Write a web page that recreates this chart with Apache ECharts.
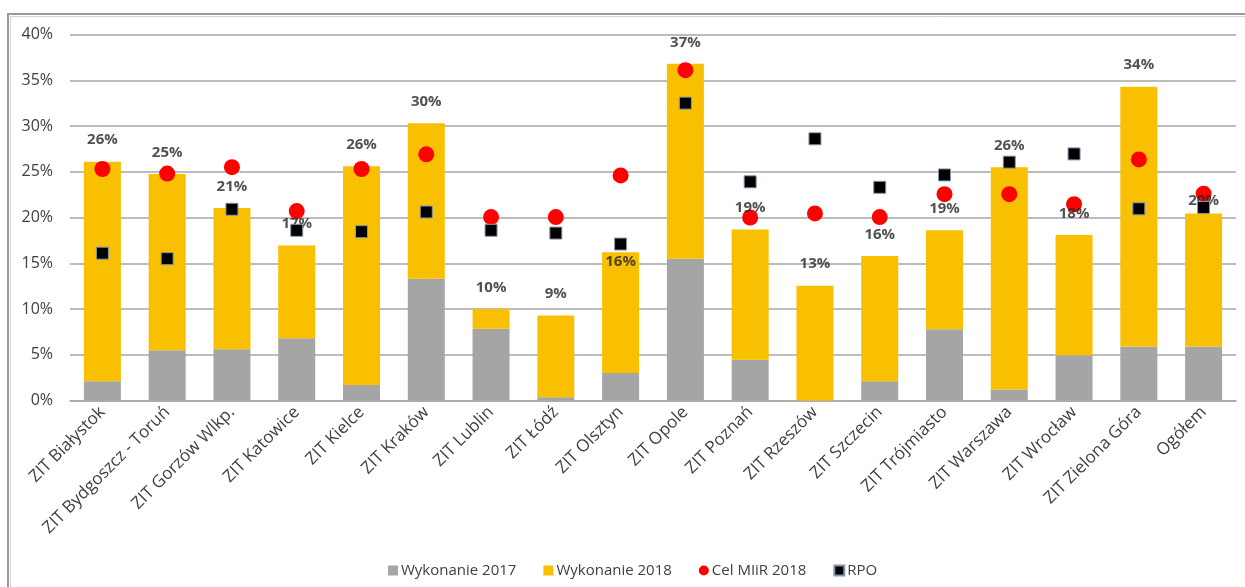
<!DOCTYPE html>
<html>
<head>
<meta charset="utf-8">
<title>ZIT</title>
<script src="https://cdn.jsdelivr.net/npm/echarts@6/dist/echarts.min.js"></script>
<style>
html, body { margin: 0; padding: 0; background: #fff; }
#main { width: 1245px; height: 587px; }
</style>
</head>
<body>
<div id="main"></div>
<script>
// kategorie (osie X)
var categories = ['ZIT Białystok', 'ZIT Bydgoszcz - Toruń', 'ZIT Gorzów Wlkp.', 'ZIT Katowice', 'ZIT Kielce',
	'ZIT Kraków', 'ZIT Lublin', 'ZIT Łódź', 'ZIT Olsztyn', 'ZIT Opole', 'ZIT Poznań', 'ZIT Rzeszów',
	'ZIT Szczecin', 'ZIT Trójmiasto', 'ZIT Warszawa', 'ZIT Wrocław', 'ZIT Zielona Góra', 'Ogółem'];
// wykonanie 2017 (%)
var wyk2017 = [2.1, 5.5, 5.6, 6.8, 1.7, 13.3, 7.85, 0.35, 3.0, 15.5, 4.45, 0, 2.1, 7.8, 1.2, 4.95, 5.9, 5.9];
// przyrost w 2018 (%)
var wyk2018 = [24.0, 19.25, 15.45, 10.15, 23.9, 17.0, 2.15, 8.95, 13.2, 21.3, 14.25, 12.55, 13.7, 10.8, 24.3, 13.15, 28.4, 14.55];
// cel MIiR 2018 (%)
var celMiir = [25.3, 24.8, 25.5, 20.7, 25.3, 26.9, 20.05, 20.05, 24.6, 36.1, 20.0, 20.45, 20.05, 22.55, 22.55, 21.45, 26.35, 22.6];
// RPO (%)
var rpo = [16.1, 15.5, 20.9, 18.6, 18.45, 20.6, 18.6, 18.3, 17.1, 32.5, 23.9, 28.6, 23.3, 24.65, 26.05, 26.95, 20.95, 21.1];
// os Y
var yMin = 0, yMax = 40, yStep = 5;

var font = "'Open Sans', 'Noto Sans', sans-serif";

// sumy do etykiet (2017 + 2018)
var labelShift = { 8: [0, 31], 17: [0, 9] };
var sumData = [];
for (var i = 0; i < wyk2018.length; i++) {
	var item = { value: wyk2017[i] + wyk2018[i] };
	if (labelShift[i]) {
		item.label = { offset: labelShift[i] };
	}
	sumData.push(item);
}

var myChart = echarts.init(document.getElementById('main'));
var option = {
	backgroundColor: '#fff',
	animation: false,
	textStyle: { fontFamily: font },
	graphic: [
		{ type: 'rect', shape: { x: 8, y: 14, width: 1300, height: 640 }, style: { fill: 'none', stroke: '#9a9a9a', lineWidth: 2 }, silent: true },
		{ type: 'rect', shape: { x: 10.5, y: 16.5, width: 1300, height: 640 }, style: { fill: 'none', stroke: '#d4d4d4', lineWidth: 1 }, silent: true }
	],
	grid: { left: 70, right: 9, top: 34.5, bottom: 186.5 },
	legend: {
		left: 383,
		top: 558,
		itemWidth: 10,
		itemHeight: 10,
		itemGap: 27,
		textStyle: { fontFamily: font, fontSize: 15, color: '#404040', padding: [0, 0, 0, -2] },
		data: [
			{ name: 'Wykonanie 2017', icon: 'rect' },
			{ name: 'Wykonanie 2018', icon: 'rect' },
			{ name: 'Cel MIiR 2018', icon: 'circle', itemStyle: { borderWidth: 0 } },
			{ name: 'RPO', icon: 'rect' }
		]
	},
	xAxis: {
		type: 'category',
		data: categories,
		axisTick: { show: false },
		axisLine: { lineStyle: { color: '#a6a6a6', width: 1.5 } },
		axisLabel: { rotate: 45, interval: 0, margin: 9, fontSize: 17, color: '#404040', fontFamily: font }
	},
	yAxis: {
		type: 'value',
		min: yMin,
		max: yMax,
		interval: yStep,
		axisLine: { show: false },
		axisTick: { show: false },
		splitLine: { lineStyle: { color: '#a6a6a6', width: 1.5 } },
		axisLabel: { formatter: '{value}%', margin: 17, fontSize: 16, color: '#404040', fontFamily: font }
	},
	series: [
		{
			name: 'Wykonanie 2017',
			type: 'bar',
			stack: 'wyk',
			barWidth: 37,
			itemStyle: { color: '#a5a5a5' },
			data: wyk2017
		},
		{
			name: 'Wykonanie 2018',
			type: 'bar',
			stack: 'wyk',
			barWidth: 37,
			itemStyle: { color: '#f8c000' },
			data: wyk2018
		},
		{
			name: 'Cel MIiR 2018',
			type: 'scatter',
			symbol: 'circle',
			symbolSize: 16,
			itemStyle: { color: '#ff0000', opacity: 1 },
			z: 2,
			data: celMiir
		},
		{
			name: 'suma',
			type: 'scatter',
			symbolSize: 0,
			silent: true,
			z: 3,
			label: {
				show: true,
				position: 'top',
				distance: 14,
				fontSize: 15,
				fontWeight: 'bold',
				color: '#262626',
				fontFamily: font,
				formatter: function(p) {
					return Math.round(p.value) + '%';
				}
			},
			data: sumData
		},
		{
			name: 'RPO',
			type: 'scatter',
			symbol: 'rect',
			symbolSize: 12,
			itemStyle: { color: '#000', borderColor: '#8496b0', borderWidth: 1, opacity: 1 },
			z: 4,
			data: rpo
		}
	]
};
myChart.setOption(option);
</script>
</body>
</html>
